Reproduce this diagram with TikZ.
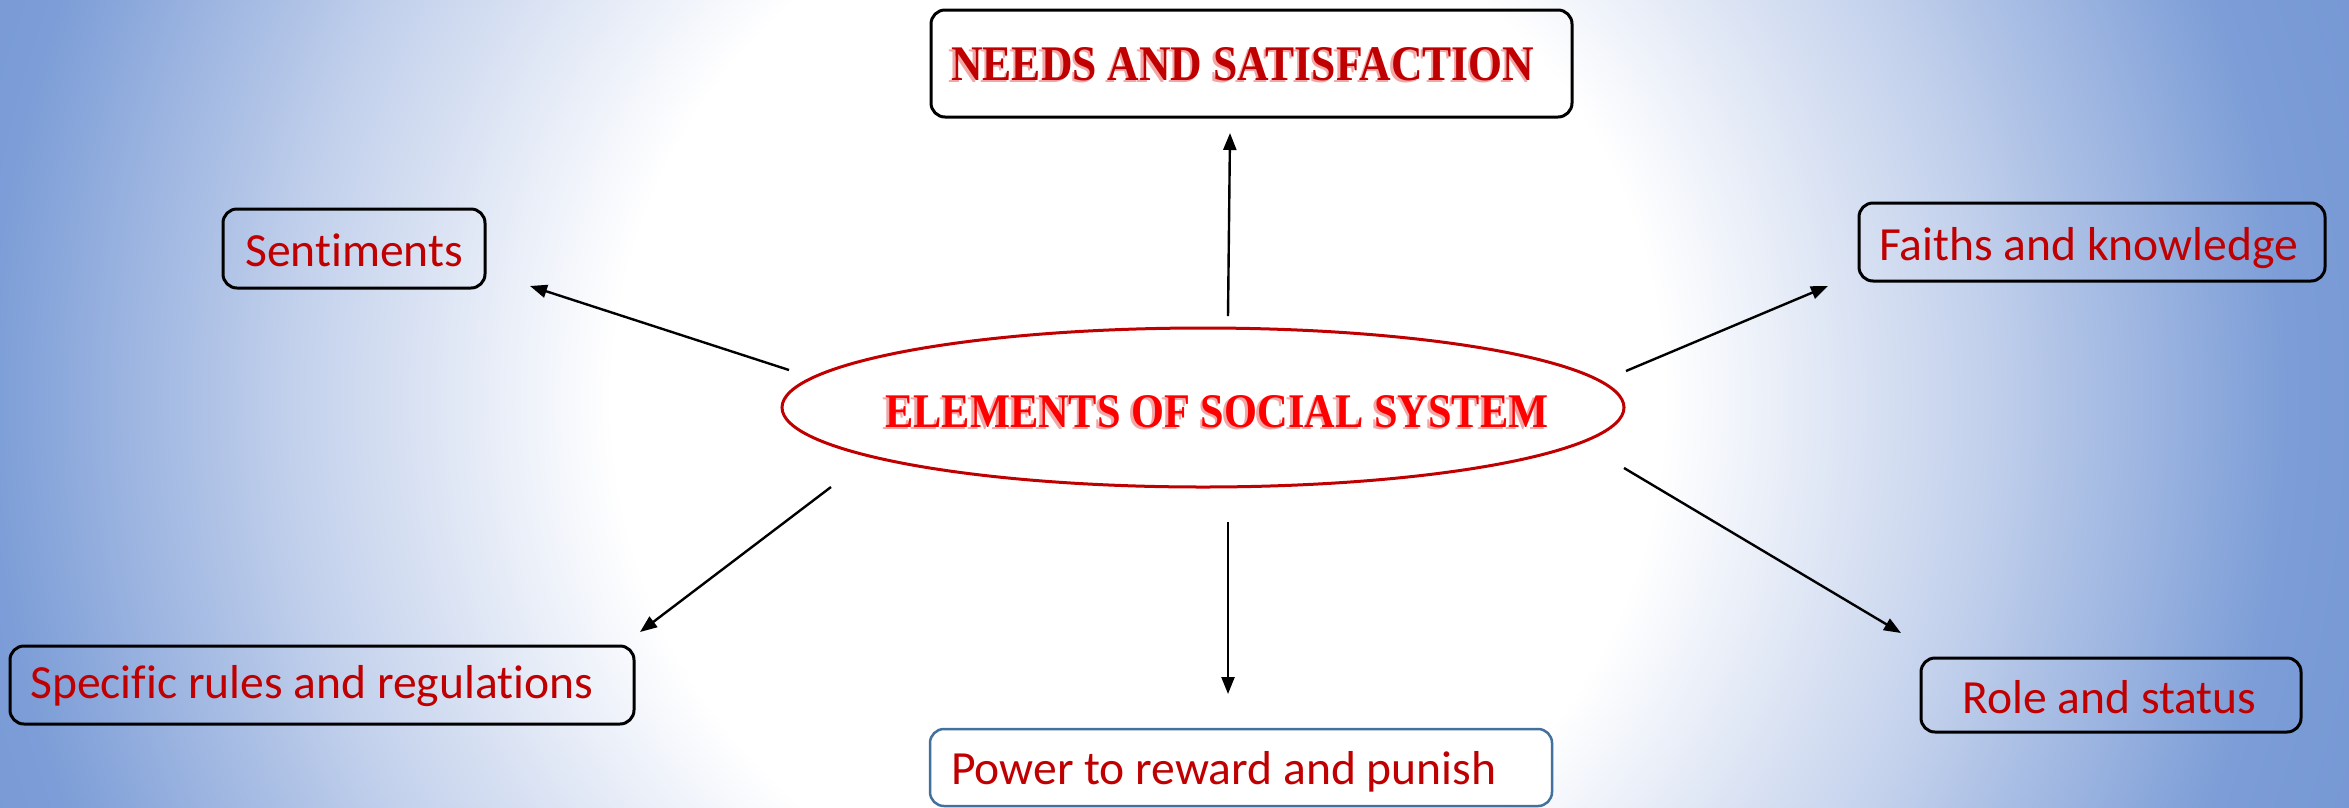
\documentclass[tikz,border=0pt]{standalone}
\usepackage{fontspec}
\usepackage{graphicx}
\setmainfont{Carlito}[Ligatures={NoCommon}]
\newfontfamily\decofont{Liberation Serif}
\usetikzlibrary{arrows.meta,shapes.geometric}
\definecolor{boxred}{HTML}{C00000}
\definecolor{brightred}{HTML}{FF0000}
\definecolor{shadowpink}{HTML}{F2A6A6}
\definecolor{bgmid}{HTML}{C3D1EC}
\definecolor{bgblueL}{HTML}{7C9DD7}
\definecolor{bgblueR}{HTML}{7597D3}
\definecolor{powerborder}{HTML}{41719C}
\pgfdeclareradialshading{bgshade}{\pgfpoint{0bp}{0bp}}{color(0bp)=(white); color(10.1bp)=(white); color(16.2bp)=(bgmid); color(22.1bp)=(bgblueL); color(25bp)=(bgblueR); color(50bp)=(bgblueR)}
\newcommand\mydeco[3]{\resizebox{#1}{#2}{\decofont\bfseries #3}}
\tikzset{
  boxnode/.style={draw=black, line width=3pt, rounded corners=14pt, inner sep=0pt},
  boxtext/.style={text=boxred, font=\fontsize{47.6}{56}\selectfont, inner sep=0pt, anchor=base west},
  decotext/.style={inner sep=0pt, anchor=base west},
  arr/.style={draw=black, line width=2.4pt, -{Triangle[length=17pt,width=13pt]}}
}
\begin{document}
\begin{tikzpicture}[x=1pt,y=-1pt]
\useasboundingbox (0,0) rectangle (2349,807);
\begin{scope}
\clip (0,0) rectangle (2349,807);
\fill[bgblueR] (0,0) rectangle (2349,807);
\shade[shading=bgshade] (1138-1300,400-1300) rectangle (1138+1300,400+1300);
\end{scope}
% boxes
\node[boxnode, minimum width=641pt, minimum height=107pt] (bNeeds) at (1251.5,63.5) {};
\node[boxnode, minimum width=262pt, minimum height=79pt] (bSent) at (354,248.5) {};
\node[boxnode, minimum width=466pt, minimum height=78pt] (bFaith) at (2092,242) {};
\node[boxnode, minimum width=624pt, minimum height=78pt] (bSpec) at (322,685) {};
\node[boxnode, minimum width=380pt, minimum height=74pt] (bRole) at (2111,695) {};
\node[boxnode, draw=powerborder, line width=2.5pt, fill=white, minimum width=622pt, minimum height=77pt] (bPower) at (1241,767.5) {};
% ellipse
\node[ellipse, draw=boxred, line width=3pt, fill=white, minimum width=842pt, minimum height=159pt, inner sep=0pt] (el) at (1203,407.5) {};
% texts
\node[boxtext] (tSent) at (245,266) {Sentiments};
\node[boxtext] (tFaith) at (1879,260) {Faiths and knowledge};
\node[boxtext] (tSpec) at (30,698) {Specific rules and regulations};
\node[boxtext] (tRole) at (1962,713) {Role and status};
\node[boxtext] (tPower) at (951,784) {Power to reward and punish};
\node[decotext, text=shadowpink] (tNeedsS) at (948.5,82.5) {\mydeco{583pt}{33pt}{NEEDS AND SATISFACTION}};
\node[decotext, text=boxred] (tNeeds) at (951,80) {\mydeco{583pt}{33pt}{NEEDS AND SATISFACTION}};
\node[decotext, text=shadowpink] (tElS) at (882.5,429.5) {\mydeco{663pt}{32pt}{ELEMENTS OF SOCIAL SYSTEM}};
\node[decotext, text=brightred] (tEl) at (885,427) {\mydeco{663pt}{32pt}{ELEMENTS OF SOCIAL SYSTEM}};
% arrow end points
\coordinate (sUp) at (1228,316);   \coordinate (eUp) at (1230,133);
\coordinate (sSent) at (789,370);  \coordinate (eSent) at (530,286);
\coordinate (sFaith) at (1626,371);\coordinate (eFaith) at (1828,286);
\coordinate (sSpec) at (831,487);  \coordinate (eSpec) at (640,632);
\coordinate (sDown) at (1228,522); \coordinate (eDown) at (1228,694);
\coordinate (sRole) at (1624,468); \coordinate (eRole) at (1901,633);
\draw[arr] (sUp) -- (eUp);
\draw[arr] (sSent) -- (eSent);
\draw[arr] (sFaith) -- (eFaith);
\draw[arr] (sSpec) -- (eSpec);
\draw[arr] (sDown) -- (eDown);
\draw[arr] (sRole) -- (eRole);
\end{tikzpicture}
\end{document}
